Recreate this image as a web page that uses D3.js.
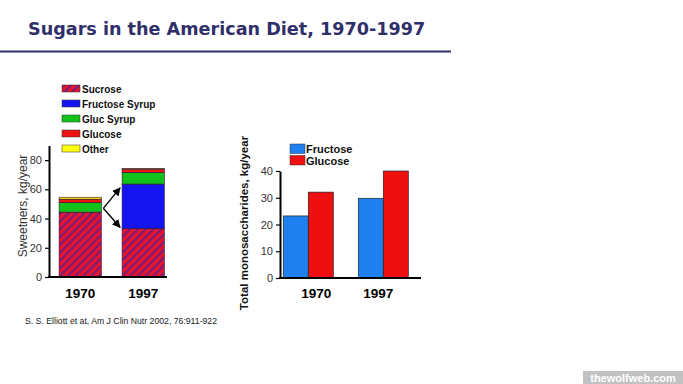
<!DOCTYPE html>
<html>
<head>
<meta charset="utf-8">
<script src="https://cdn.jsdelivr.net/npm/d3@7"></script>
<style>
  body { margin: 0; background: #fff; }
  svg { display: block; font-family: "Liberation Sans", Arial, sans-serif; }
</style>
</head>
<body>
<div id="chart"></div>
<script>
// data
const years = ["1970", "1997"];
const sweetenerKeys = ["Sucrose", "Fructose Syrup", "Gluc Syrup", "Glucose", "Other"];
const sucrose = [44.4, 33.1];
const fructoseSyrup = [0, 30.5];
const glucSyrup = [6.5, 8.0];
const glucoseSweet = [2.4, 2.2];
const other = [1.3, 0.5];
const sweetTicks = [0, 20, 40, 60, 80];

const monoKeys = ["Fructose", "Glucose"];
const fructoseMono = [23.2, 29.8];
const glucoseMono = [32.1, 40];
const monoTicks = [0, 10, 20, 30, 40];

const navy = "#2f2f6a";

const svg = d3.select("#chart").append("svg")
    .attr("width", 683)
    .attr("height", 384);

// stripe pattern for sucrose
const defs = svg.append("defs");
const pat = defs.append("pattern")
    .attr("id", "hatch")
    .attr("patternUnits", "userSpaceOnUse")
    .attr("width", 5.5)
    .attr("height", 5.5)
    .attr("patternTransform", "rotate(45)");
pat.append("rect").attr("width", 5.5).attr("height", 5.5).attr("fill", "#e8142c");
pat.append("rect").attr("width", 2.2).attr("height", 5.5).attr("fill", "#7a1c78");

// title + rule
svg.append("text")
    .attr("x", 28).attr("y", 35)
    .attr("font-family", "DejaVu Sans, Verdana, sans-serif")
    .attr("font-weight", "bold")
    .attr("font-size", 17.6)
    .attr("fill", navy)
    .text("Sugars in the American Diet, 1970-1997");
svg.append("line")
    .attr("x1", 0).attr("x2", 451)
    .attr("y1", 51.5).attr("y2", 51.5)
    .attr("stroke", navy).attr("stroke-width", 2);

// ---------- left chart: stacked sweeteners ----------
const sweetColors = {
    "Sucrose": "url(#hatch)",
    "Fructose Syrup": "#1414f0",
    "Gluc Syrup": "#12c21a",
    "Glucose": "#ee1414",
    "Other": "#ffff10"
};
const sweetRows = years.map((yr, i) => ({
    year: yr,
    "Sucrose": sucrose[i],
    "Fructose Syrup": fructoseSyrup[i],
    "Gluc Syrup": glucSyrup[i],
    "Glucose": glucoseSweet[i],
    "Other": other[i]
}));
const stack = d3.stack().keys(sweetenerKeys)(sweetRows);

const x1 = d3.scaleBand().domain(years).range([52.8, 170.6])
    .paddingInner(0.33).paddingOuter(0.1);
const y1 = d3.scaleLinear().domain([0, 90]).range([277, 145.5]);

const left = svg.append("g");
left.selectAll("g.layer")
    .data(stack)
    .join("g")
    .attr("class", "layer")
    .attr("fill", d => sweetColors[d.key])
    .selectAll("rect")
    .data(d => d)
    .join("rect")
    .attr("x", d => x1(d.data.year))
    .attr("width", x1.bandwidth())
    .attr("y", d => y1(d[1]))
    .attr("height", d => y1(d[0]) - y1(d[1]))
    .attr("stroke", "#301030")
    .attr("stroke-width", 0.6);

const ax1 = left.append("g")
    .attr("transform", "translate(49,0)")
    .call(d3.axisLeft(y1).tickValues(sweetTicks).tickSize(4).tickSizeOuter(0));
ax1.select(".domain").attr("stroke-width", 2);
ax1.selectAll(".tick line").attr("stroke-width", 1.2);
ax1.selectAll(".tick text").attr("font-size", 11).attr("fill", "#333")
    .attr("font-family", "Liberation Sans, Arial, sans-serif");

left.append("line")
    .attr("x1", 48).attr("x2", 167)
    .attr("y1", y1(0)).attr("y2", y1(0))
    .attr("stroke", "#000").attr("stroke-width", 2);

left.selectAll("text.year")
    .data(years)
    .join("text")
    .attr("class", "year")
    .attr("x", d => x1(d) + x1.bandwidth() / 2)
    .attr("y", 298)
    .attr("text-anchor", "middle")
    .attr("font-weight", "bold")
    .attr("font-size", 13.5)
    .text(d => d);

left.append("text")
    .attr("transform", "translate(27,206) rotate(-90)")
    .attr("text-anchor", "middle")
    .attr("font-size", 12)
    .attr("fill", "#333")
    .text("Sweetners, kg/year");

// arrows from 1970 to 1997
defs.append("marker")
    .attr("id", "arrow")
    .attr("viewBox", "0 0 10 10")
    .attr("refX", 9).attr("refY", 5)
    .attr("markerWidth", 6).attr("markerHeight", 6)
    .attr("orient", "auto")
    .append("path").attr("d", "M0,0L10,5L0,10z").attr("fill", "#000");
const arrowEnds = [61, 34];
left.selectAll("line.arrow")
    .data(arrowEnds)
    .join("line")
    .attr("class", "arrow")
    .attr("x1", x1("1970") + x1.bandwidth() + 2)
    .attr("y1", y1(47))
    .attr("x2", x1("1997") - 2)
    .attr("y2", d => y1(d))
    .attr("stroke", "#000")
    .attr("stroke-width", 1.4)
    .attr("marker-end", "url(#arrow)");

// legend
const leg1 = left.selectAll("g.leg")
    .data(sweetenerKeys)
    .join("g")
    .attr("class", "leg")
    .attr("transform", (d, i) => `translate(62,${85 + i * 15})`);
leg1.append("rect")
    .attr("width", 18).attr("height", 7)
    .attr("fill", d => sweetColors[d])
    .attr("stroke", "#333").attr("stroke-width", 0.5);
leg1.append("text")
    .attr("x", 20).attr("y", 7.5)
    .attr("font-size", 10)
    .attr("font-weight", "bold")
    .attr("fill", "#111")
    .text(d => d);

// ---------- right chart: monosaccharides ----------
const monoColors = { "Fructose": "#1f80f0", "Glucose": "#ee1010" };
const monoRows = years.map((yr, i) => ({
    year: yr, "Fructose": fructoseMono[i], "Glucose": glucoseMono[i]
}));

const x2 = d3.scaleBand().domain(years).range([275.8, 415.8])
    .paddingInner(1 / 3).paddingOuter(0.1);
const x2in = d3.scaleBand().domain(monoKeys).range([0, x2.bandwidth()]);
const y2 = d3.scaleLinear().domain([0, 40]).range([278, 171]);

const right = svg.append("g");
right.selectAll("g.grp")
    .data(monoRows)
    .join("g")
    .attr("class", "grp")
    .attr("transform", d => `translate(${x2(d.year)},0)`)
    .selectAll("rect")
    .data(d => monoKeys.map(k => ({ key: k, value: d[k] })))
    .join("rect")
    .attr("x", d => x2in(d.key))
    .attr("width", x2in.bandwidth())
    .attr("y", d => y2(d.value))
    .attr("height", d => y2(0) - y2(d.value))
    .attr("fill", d => monoColors[d.key])
    .attr("stroke", "#222")
    .attr("stroke-width", 0.7);

const ax2 = right.append("g")
    .attr("transform", "translate(280,0)")
    .call(d3.axisLeft(y2).tickValues(monoTicks).tickSize(4).tickSizeOuter(0));
ax2.select(".domain").attr("stroke-width", 2);
ax2.selectAll(".tick line").attr("stroke-width", 1.2);
ax2.selectAll(".tick text").attr("font-size", 11).attr("fill", "#333")
    .attr("font-family", "Liberation Sans, Arial, sans-serif");

right.append("line")
    .attr("x1", 279).attr("x2", 421)
    .attr("y1", y2(0)).attr("y2", y2(0))
    .attr("stroke", "#000").attr("stroke-width", 2);

right.selectAll("text.year")
    .data(years)
    .join("text")
    .attr("class", "year")
    .attr("x", d => x2(d) + x2.bandwidth() / 2 + (d === "1970" ? 8 : -5))
    .attr("y", 298)
    .attr("text-anchor", "middle")
    .attr("font-weight", "bold")
    .attr("font-size", 13.5)
    .text(d => d);

right.append("text")
    .attr("transform", "translate(248,223) rotate(-90)")
    .attr("text-anchor", "middle")
    .attr("font-size", 11.5)
    .attr("font-weight", "bold")
    .attr("fill", "#111")
    .text("Total monosaccharides, kg/year");

const leg2 = right.selectAll("g.leg")
    .data(monoKeys)
    .join("g")
    .attr("class", "leg")
    .attr("transform", (d, i) => `translate(290,${144 + i * 11.5})`);
leg2.append("rect")
    .attr("width", 15).attr("height", 9.5)
    .attr("fill", d => monoColors[d])
    .attr("stroke", "#333").attr("stroke-width", 0.5);
leg2.append("text")
    .attr("x", 16).attr("y", 9)
    .attr("font-size", 11)
    .attr("font-weight", "bold")
    .attr("fill", "#111")
    .text(d => d);

// citation
svg.append("text")
    .attr("x", 25).attr("y", 324)
    .attr("font-size", 8.7)
    .attr("fill", "#222")
    .text("S. S. Elliott et at, Am J Clin Nutr 2002, 76:911-922");

// watermark
svg.append("rect")
    .attr("x", 583).attr("y", 371)
    .attr("width", 100).attr("height", 13)
    .attr("fill", "#c2c2c2");
svg.append("text")
    .attr("x", 633).attr("y", 381.5)
    .attr("text-anchor", "middle")
    .attr("font-size", 11)
    .attr("font-weight", "bold")
    .attr("fill", "#fff")
    .text("thewolfweb.com");
</script>
</body>
</html>
